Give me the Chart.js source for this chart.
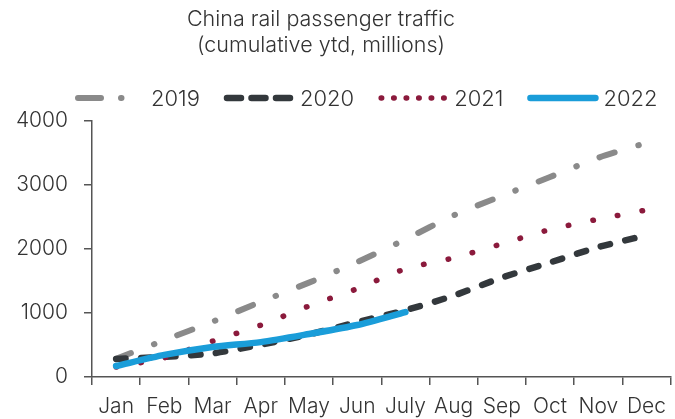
<!DOCTYPE html>
<html>
<head>
<meta charset="utf-8">
<script src="https://cdn.jsdelivr.net/npm/chart.js@4.4.1/dist/chart.umd.min.js"></script>
<style>
  html, body { margin: 0; padding: 0; background: #fff; }
  #wrap { width: 675px; height: 419px; }
</style>
</head>
<body>
<div id="wrap"><canvas id="railChart"></canvas></div>
<script>
var months = ['Jan', 'Feb', 'Mar', 'Apr', 'May', 'Jun', 'July', 'Aug', 'Sep', 'Oct', 'Nov', 'Dec'];
var yTicks = [0, 1000, 2000, 3000, 4000];
var titleLines = ['China rail passenger traffic', '(cumulative ytd, millions)'];

// cumulative ytd, millions
var y2019 = [285, 575, 865, 1175, 1475, 1795, 2150, 2525, 2830, 3125, 3425, 3660];
var y2020 = [282, 315, 369, 505, 665, 857, 1043, 1272, 1553, 1790, 2029, 2215];
var y2021 = [156, 300, 560, 810, 1110, 1380, 1690, 1860, 2080, 2305, 2465, 2610];
var y2022 = [172, 345, 469, 545, 672, 812, 1015, null, null, null, null, null];

var FONT = 'Inter, Lato, sans-serif';

var series = [
  { label: '2019', data: y2019, color: '#8a8a8a', width: 6, dash: [16, 24.5, 0.5, 24.5], legendDash: [23, 20, 0.5, 22, 0.5, 40], order: 4 },
  { label: '2020', data: y2020, color: '#33383c', width: 6.5, dash: [9.5, 15.5], legendDash: [14, 10.5], order: 3 },
  { label: '2021', data: y2021, color: '#8b1a3c', width: 5.5, dash: [0.5, 24.5], legendDash: [0.5, 12], order: 2 },
  { label: '2022', data: y2022, color: '#1a9dd9', width: 6.5, dash: [], legendDash: [], order: 1 }
];

var headerPlugin = {
  id: 'header',
  afterDraw: function(chart) {
    var ctx = chart.ctx;
    ctx.save();
    ctx.fillStyle = '#333';
    ctx.textAlign = 'center';
    ctx.textBaseline = 'middle';
    ctx.font = '300 21.5px ' + FONT;
    ctx.fillText(titleLines[0], 321, 20);
    ctx.fillText(titleLines[1], 321, 46);

    // legend
    var x = 75, y = 98;
    ctx.font = '300 22px ' + FONT;
    ctx.textAlign = 'left';
    series.forEach(function(s) {
      ctx.beginPath();
      ctx.setLineDash(s.legendDash);
      ctx.lineCap = 'round';
      ctx.lineWidth = s.width;
      ctx.strokeStyle = s.color;
      ctx.moveTo(x + 3, y);
      ctx.lineTo(x + 68, y);
      ctx.stroke();
      ctx.setLineDash([]);
      ctx.fillStyle = '#333';
      ctx.fillText(s.label, x + 76, y + 1);
      x += 76 + ctx.measureText(s.label).width + 24;
    });
    ctx.restore();
  }
};

new Chart(document.getElementById('railChart'), {
  type: 'line',
  data: {
    labels: months,
    datasets: series.map(function(s) {
      return {
        label: s.label,
        data: s.data,
        borderColor: s.color,
        backgroundColor: s.color,
        borderWidth: s.width,
        borderDash: s.dash,
        borderCapStyle: 'round',
        borderJoinStyle: 'round',
        pointRadius: 0,
        tension: 0.25,
        fill: false,
        spanGaps: false,
        order: s.order
      };
    })
  },
  options: {
    responsive: true,
    maintainAspectRatio: false,
    animation: false,
    devicePixelRatio: 1,
    layout: { padding: { top: 121, left: 12, right: 0, bottom: 1 } },
    plugins: {
      legend: { display: false },
      title: { display: false },
      tooltip: { enabled: false }
    },
    scales: {
      x: {
        offset: true,
        afterFit: function(scale) { scale.height = 41; },
        grid: { offset: true, drawOnChartArea: false, color: '#555', lineWidth: 1.5, tickLength: 8 },
        border: { color: '#555', width: 1.5 },
        ticks: { color: '#333', padding: 9, maxRotation: 0, autoSkip: false, font: { family: FONT, size: 21, weight: 300 } }
      },
      y: {
        min: 0,
        max: 4000,
        afterFit: function(scale) { scale.width = 80; },
        afterBuildTicks: function(scale) {
          scale.ticks = yTicks.map(function(v) { return { value: v }; });
        },
        grid: { drawOnChartArea: false, color: '#555', lineWidth: 1.5, tickLength: 8 },
        border: { color: '#555', width: 1.5 },
        ticks: {
          color: '#333', padding: 16, font: { family: FONT, size: 21, weight: 300 },
          callback: function(v) { return String(v); }
        }
      }
    }
  },
  plugins: [headerPlugin]
});
</script>
</body>
</html>
